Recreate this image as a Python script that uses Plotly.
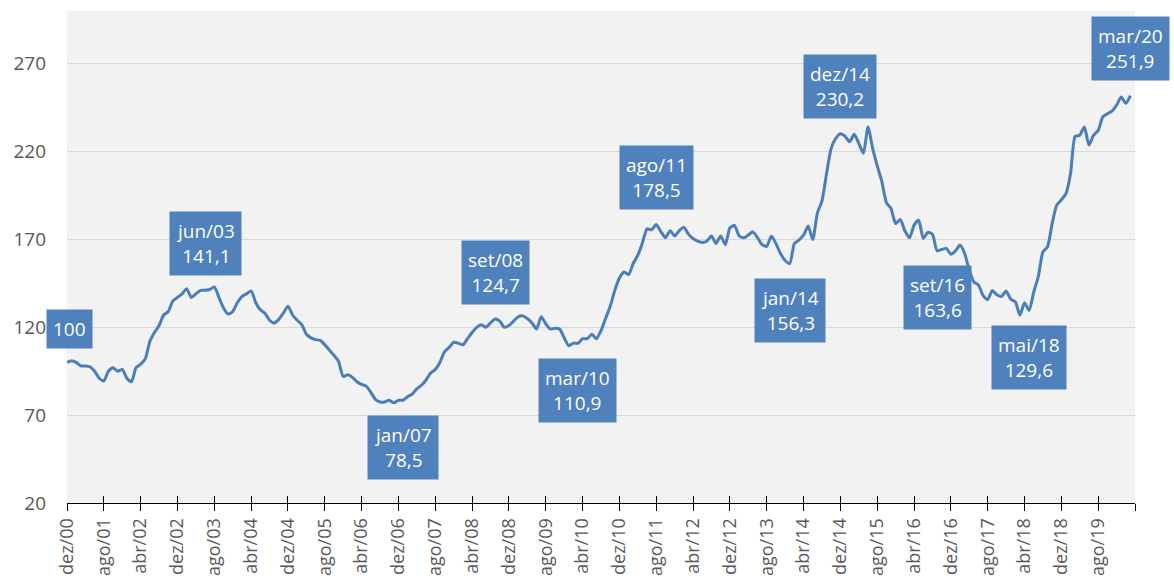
import plotly.graph_objects as go

MONTHS = ["jan", "fev", "mar", "abr", "mai", "jun", "jul", "ago", "set", "out", "nov", "dez"]

# monthly index values, dez/2000 .. mar/2020
values = [
    100, 101, 100, 98, 98, 97.5, 95, 91, 89.5, 95, 97, 95,
    96, 91, 89, 97, 99, 102, 112, 117, 121, 127, 129, 135,
    137, 139, 142, 137, 139, 141, 141.1, 141.5, 143, 137, 131, 127.5,
    129, 134, 137.5, 139, 140.7, 134, 130, 128, 124, 122.5, 124.5, 128,
    132, 127, 124, 121.5, 116, 114, 113, 112.5, 110, 107, 104, 100.5,
    92, 93, 91.5, 89, 87.5, 86.5, 83, 79, 77.5, 77.5, 78.5, 77,
    78.5, 78.5, 80.5, 82, 85, 87, 90, 94, 96, 100, 106, 108.5,
    111.5, 111, 110, 113.5, 117, 120, 121.5, 120, 122.5, 124.7, 123.5, 120,
    121, 123.5, 126, 126.5, 125, 122.5, 119, 126, 122, 119, 119.5, 119,
    114, 109.5, 111, 110.9, 113.5, 113.5, 116, 113.5, 118, 125, 132, 141,
    148, 151.5, 150, 156.3, 161, 168, 176, 175.5, 178.5, 174.5, 171, 175,
    172, 175, 177, 173, 170.5, 169, 168.3, 169, 172, 167.7, 172, 167,
    176.5, 178, 172, 170.9, 172.5, 174.3, 171, 167, 166, 172, 167.7, 162,
    158, 156.3, 167.7, 169.6, 172.4, 177.6, 170, 185, 192, 207.5, 221.8, 227.5,
    230.2, 228.8, 225.6, 229.8, 224.7, 219, 234, 222, 212, 203, 191, 187.6,
    179, 181.4, 175, 170.9, 178, 181, 170.6, 174, 173, 163.6, 164.3, 164.9,
    161.6, 163.5, 166.8, 162, 152.5, 145.8, 144, 138, 135.8, 141, 138.5, 137.5,
    140.7, 136, 134.5, 126.9, 133.9, 129.6, 140, 149, 162.9, 165.8, 179, 189.5,
    192.5, 196, 207.5, 228.7, 229.3, 234, 223.7, 229.3, 232, 239.8, 241.5, 243,
    246.4, 251, 247.5, 251.9,
]

# month labels: dez/00 onward
month_labels = ["dez/00"] + [f"{MONTHS[m]}/{y:02d}" for y in range(1, 21) for m in range(12)]
month_labels = month_labels[:len(values)]
x_index = list(range(len(values)))

tick_step = 8
tick_idx = list(range(0, len(values) + 1, tick_step))          # last tick closes the axis
tick_text = [month_labels[i] if i < len(values) else "" for i in tick_idx]

y_ticks = [20, 70, 120, 170, 220, 270]

# highlighted points and whether the label sits above (+1) or below (-1)
highlight_idx = [0, 30, 73, 93, 111, 128, 157, 168, 189, 209, 231]
highlight_side = [1, 1, -1, 1, -1, 1, -1, 1, -1, -1, 1]

BLUE = "#4f81bd"
LINE = "#4a7ebb"
GRAY = "#595959"
FONT = "Open Sans"


def fmt(v):
    if float(v).is_integer():
        return str(int(v))
    return f"{v:.1f}".replace(".", ",")


fig = go.Figure()
fig.add_trace(go.Scatter(
    x=x_index, y=values, mode="lines",
    line=dict(color=LINE, width=3, shape="spline", smoothing=0.6),
    hoverinfo="skip", showlegend=False,
))
# invisible helper trace so the overlay axis (inside tick marks) is drawn
fig.add_trace(go.Scatter(x=[x_index[0]], y=[values[0]], xaxis="x2", mode="markers",
                         marker=dict(opacity=0), hoverinfo="skip", showlegend=False))

annotations = []
for k, (i, side) in enumerate(zip(highlight_idx, highlight_side)):
    v = values[i]
    single = k == 0
    text = fmt(v) if single else f"{month_labels[i]}<br>{fmt(v)}"
    annotations.append(dict(
        x=i, y=v, xref="x", yref="y", text=text, showarrow=False,
        xshift=2 if single else 0, yshift=(33 if single else 47) * side,
        font=dict(family=FONT, size=19, color="white"),
        bgcolor=BLUE, borderpad=6, align="center",
    ))

x_range = [0, len(values)]
fig.update_layout(
    width=1174, height=579,
    margin=dict(l=67, r=39, t=11, b=76),
    paper_bgcolor="white",
    plot_bgcolor="#f2f2f2",
    font=dict(family=FONT, color=GRAY, size=18),
    annotations=annotations,
    xaxis=dict(
        range=x_range, tickmode="array", tickvals=tick_idx, ticktext=tick_text,
        tickangle=-90, ticks="outside", ticklen=7, tickcolor="black", tickwidth=1,
        showline=True, linecolor="black", linewidth=1, showgrid=False, zeroline=False,
        tickfont=dict(family=FONT, size=18, color=GRAY), automargin=False,
    ),
    xaxis2=dict(
        range=x_range, overlaying="x", anchor="y", side="bottom",
        tickmode="array", tickvals=tick_idx, showticklabels=False,
        ticks="inside", ticklen=7, tickcolor="black", tickwidth=1,
        showline=False, showgrid=False, zeroline=False, automargin=False,
    ),
    yaxis=dict(
        range=[20, 300], tickmode="array", tickvals=y_ticks,
        showgrid=True, gridcolor="#d9d9d9", gridwidth=1, zeroline=False,
        showline=False, ticks="", ticklabelstandoff=20, automargin=False,
        tickfont=dict(family=FONT, size=19, color=GRAY),
    ),
)

fig.write_html("out.html", config={"displayModeBar": False},
               post_script="document.body.style.margin='0';")
